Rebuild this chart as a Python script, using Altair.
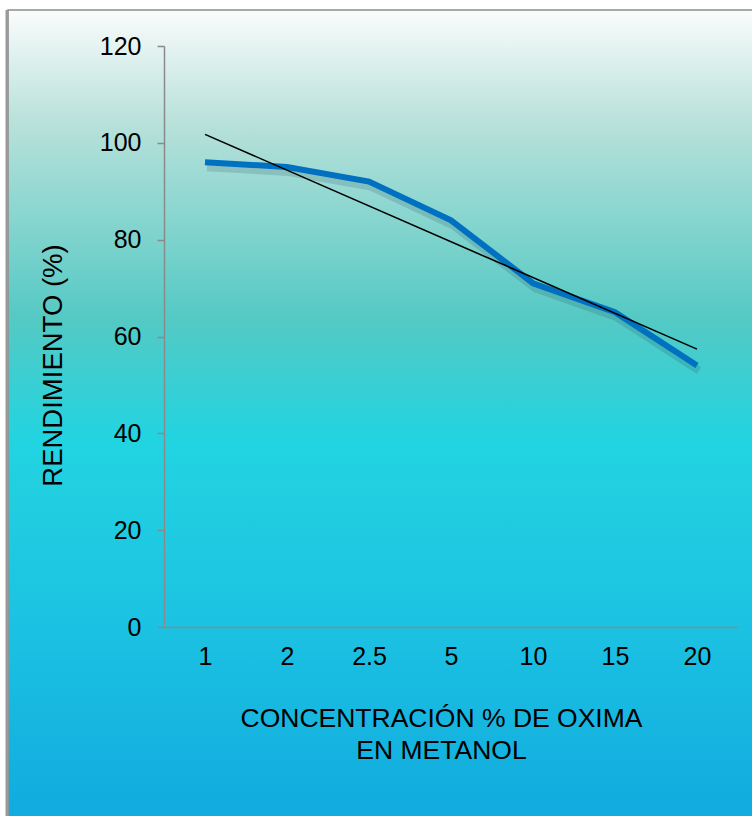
import altair as alt
import pandas as pd

# --- data ---
concentracion = ["1", "2", "2.5", "5", "10", "15", "20"]
rendimiento = [96, 95, 92, 84, 71, 65, 54]
posicion = [1, 2, 3, 4, 5, 6, 7]
y_ticks = [0, 20, 40, 60, 80, 100, 120]

df = pd.DataFrame({"pos": posicion, "conc": concentracion, "rend": rendimiento})
bg_df = pd.DataFrame({"a": [0]})

W, H = 574, 581
PAD_L, PAD_T = 164, 46
TOTAL_W, TOTAL_H = 752, 816

label_expr = "[" + ",".join("'%s'" % c for c in concentracion) + "][datum.value - 1]"

AXIS_GRAY = "#8a8a8a"
FONT = "Liberation Sans"

x_enc = alt.X(
    "pos:Q",
    scale=alt.Scale(domain=[0.5, 7.5], nice=False, zero=False),
    axis=alt.Axis(
        values=posicion,
        labelExpr=label_expr,
        ticks=False,
        grid=False,
        zindex=1,
        domainColor=AXIS_GRAY,
        domainWidth=1.5,
        labelFontSize=25,
        labelPadding=17,
        labelColor="black",
        labelFont=FONT,
        title=["CONCENTRACIÓN % DE OXIMA", "EN METANOL"],
        titleFontSize=26.5,
        titleFont=FONT,
        titleFontWeight="normal",
        titleColor="black",
        titleX=277,
        titleY=78,
        titleBaseline="top",
        titleAlign="center",
        titleLineHeight=32,
    ),
)
y_enc = alt.Y(
    "rend:Q",
    scale=alt.Scale(domain=[0, 120], nice=False),
    axis=alt.Axis(
        values=y_ticks,
        grid=False,
        zindex=1,
        domainColor=AXIS_GRAY,
        domainWidth=1.5,
        tickColor=AXIS_GRAY,
        tickWidth=1.5,
        tickSize=7,
        labelFontSize=25,
        labelPadding=16,
        labelColor="black",
        labelFont=FONT,
        title="RENDIMIENTO (%)",
        titleFontSize=27.5,
        titleFont=FONT,
        titleFontWeight="normal",
        titleColor="black",
        titleX=-111,
        titleY=319,
        titleBaseline="middle",
        titleAlign="center",
    ),
)

gradient = alt.Gradient(
    gradient="linear",
    x1=0, y1=0, x2=0, y2=1,
    stops=[
        alt.GradientStop(color="#fafcfc", offset=0.0),
        alt.GradientStop(color="#b8e1da", offset=0.14),
        alt.GradientStop(color="#55c9c4", offset=0.38),
        alt.GradientStop(color="#22d4e0", offset=0.53),
        alt.GradientStop(color="#1cc2e2", offset=0.76),
        alt.GradientStop(color="#11abdf", offset=1.0),
    ],
)

background = alt.Chart(bg_df).mark_rect(
    fill=gradient, stroke="#8c8c8c", strokeWidth=1.5
).encode(
    x=alt.value(8 - PAD_L),
    x2=alt.value(TOTAL_W - PAD_L + 2),
    y=alt.value(10 - PAD_T),
    y2=alt.value(TOTAL_H - PAD_T + 2),
)

left_edge = alt.Chart(bg_df).mark_rule(color="#9a9a9a", strokeWidth=3).encode(
    x=alt.value(7 - PAD_L),
    y=alt.value(10 - PAD_T),
    y2=alt.value(TOTAL_H - PAD_T),
)

base = alt.Chart(df)

shadow = base.mark_line(
    color="#1a3a4a", opacity=0.16, strokeWidth=8, xOffset=2, yOffset=5
).encode(x=x_enc, y=y_enc)

line = base.mark_line(color="#0070c0", strokeWidth=6, strokeJoin="miter").encode(
    x=x_enc, y=y_enc
)

trend = base.transform_regression("pos", "rend", method="linear").mark_line(
    color="black", strokeWidth=1.6
).encode(x=x_enc, y=y_enc)

chart = (
    alt.layer(background, left_edge, shadow, line, trend)
    .properties(
        width=W,
        height=H,
        autosize=alt.AutoSizeParams(type="none"),
        padding={"left": PAD_L, "top": PAD_T, "right": TOTAL_W - PAD_L - W, "bottom": TOTAL_H - PAD_T - H},
        background="white",
    )
    .configure_view(stroke=None)
)

chart.save("out.html", embed_options={"renderer": "svg", "actions": False})
